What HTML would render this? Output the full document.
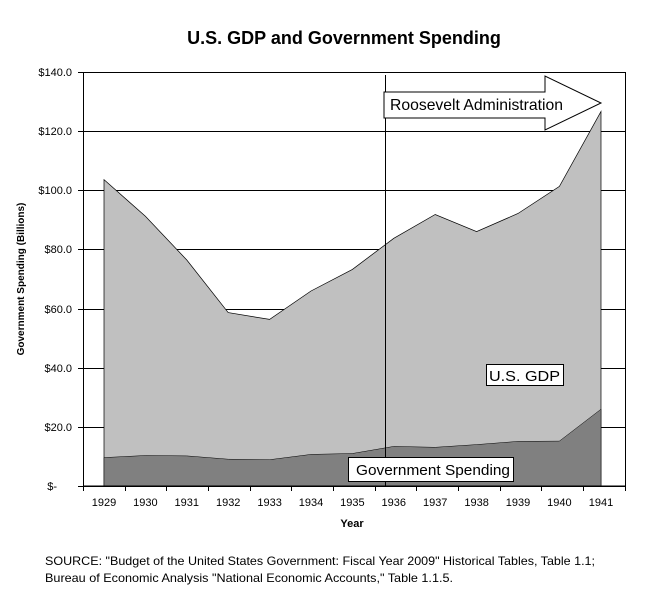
<!DOCTYPE html>
<html><head><style>
body{margin:0;background:#fff;}
svg text{font-family:"Liberation Sans",Arial,sans-serif;}
</style></head><body>
<svg width="645" height="609" xmlns="http://www.w3.org/2000/svg">
<text x="344" y="44" text-anchor="middle" font-size="18" font-weight="bold">U.S. GDP and Government Spending</text>
<g stroke="#000" stroke-width="1">
<line x1="83" y1="72.5" x2="625" y2="72.5"/>
<line x1="83" y1="131.5" x2="625" y2="131.5"/>
<line x1="83" y1="190.5" x2="625" y2="190.5"/>
<line x1="83" y1="249.5" x2="625" y2="249.5"/>
<line x1="83" y1="309.5" x2="625" y2="309.5"/>
<line x1="83" y1="368.5" x2="625" y2="368.5"/>
<line x1="83" y1="427.5" x2="625" y2="427.5"/>
</g>
<polygon fill="#c0c0c0" stroke="#000" stroke-width="0.7" points="104,486 104,179.6 145.4,216.3 186.8,260 228.2,312.6 269.6,319.4 311,291 352.4,269.4 393.8,238.3 435.2,214.5 476.6,231.6 518,213.5 559.4,186.4 601,111.5 601,486"/>
<polygon fill="#808080" stroke="#000" stroke-width="0.5" points="104,486 104,457.6 145.4,455.5 186.8,455.9 228.2,459.2 269.6,459.7 311,454.4 352.4,453.5 393.8,446.4 435.2,447.3 476.6,444.6 518,441.4 559.4,441.1 601,409.2 601,486"/>
<rect x="83.5" y="72.5" width="542" height="413.5" fill="none" stroke="#000"/>
<line x1="83" y1="486.5" x2="625" y2="486.5" stroke="#000"/>
<g stroke="#000">
<line x1="83.5" y1="486" x2="83.5" y2="491"/><line x1="125.5" y1="486" x2="125.5" y2="491"/><line x1="166.5" y1="486" x2="166.5" y2="491"/><line x1="208.5" y1="486" x2="208.5" y2="491"/><line x1="250.5" y1="486" x2="250.5" y2="491"/><line x1="291.5" y1="486" x2="291.5" y2="491"/><line x1="333.5" y1="486" x2="333.5" y2="491"/><line x1="375.5" y1="486" x2="375.5" y2="491"/><line x1="416.5" y1="486" x2="416.5" y2="491"/><line x1="458.5" y1="486" x2="458.5" y2="491"/><line x1="500.5" y1="486" x2="500.5" y2="491"/><line x1="541.5" y1="486" x2="541.5" y2="491"/><line x1="583.5" y1="486" x2="583.5" y2="491"/><line x1="625.5" y1="486" x2="625.5" y2="491"/>
<line x1="78" y1="72.5" x2="83" y2="72.5"/><line x1="78" y1="131.5" x2="83" y2="131.5"/><line x1="78" y1="190.5" x2="83" y2="190.5"/><line x1="78" y1="249.5" x2="83" y2="249.5"/><line x1="78" y1="309.5" x2="83" y2="309.5"/><line x1="78" y1="368.5" x2="83" y2="368.5"/><line x1="78" y1="427.5" x2="83" y2="427.5"/><line x1="78" y1="486.5" x2="83" y2="486.5"/>
</g>
<g font-size="11" text-anchor="end">
<text x="72" y="76">$140.0</text><text x="72" y="135">$120.0</text><text x="72" y="194">$100.0</text><text x="72" y="253">$80.0</text><text x="72" y="313">$60.0</text><text x="72" y="372">$40.0</text><text x="72" y="431">$20.0</text><text x="57" y="490">$-</text>
</g>
<g font-size="11" text-anchor="middle">
<text x="104" y="506">1929</text><text x="145.4" y="506">1930</text><text x="186.8" y="506">1931</text><text x="228.2" y="506">1932</text><text x="269.6" y="506">1933</text><text x="311" y="506">1934</text><text x="352.4" y="506">1935</text><text x="393.8" y="506">1936</text><text x="435.2" y="506">1937</text><text x="476.6" y="506">1938</text><text x="518" y="506">1939</text><text x="559.4" y="506">1940</text><text x="601" y="506">1941</text>
</g>
<text x="352" y="527" font-size="11" font-weight="bold" text-anchor="middle">Year</text>
<text transform="translate(24,279) rotate(-90)" font-size="10" font-weight="bold" text-anchor="middle">Government Spending (Billions)</text>
<line x1="385.5" y1="75" x2="385.5" y2="486" stroke="#000"/>
<polygon points="384,92 545,92 545,76 601,103 545,130 545,118 384,118" fill="#fff" stroke="#000"/>
<text x="390" y="110" font-size="16" textLength="173" lengthAdjust="spacingAndGlyphs">Roosevelt Administration</text>
<rect x="486.5" y="364.5" width="77" height="21" fill="#fff" stroke="#000"/>
<text x="489" y="381" font-size="15" textLength="71" lengthAdjust="spacingAndGlyphs">U.S. GDP</text>
<rect x="348.5" y="457.5" width="165" height="24" fill="#fff" stroke="#000"/>
<text x="356" y="475" font-size="15" textLength="154" lengthAdjust="spacingAndGlyphs">Government Spending</text>
<text x="45" y="565" font-size="12" textLength="550" lengthAdjust="spacingAndGlyphs">SOURCE: "Budget of the United States Government: Fiscal Year 2009" Historical Tables, Table 1.1;</text>
<text x="45" y="582" font-size="12" textLength="408" lengthAdjust="spacingAndGlyphs">Bureau of Economic Analysis "National Economic Accounts," Table 1.1.5.</text>
</svg>
</body></html>
